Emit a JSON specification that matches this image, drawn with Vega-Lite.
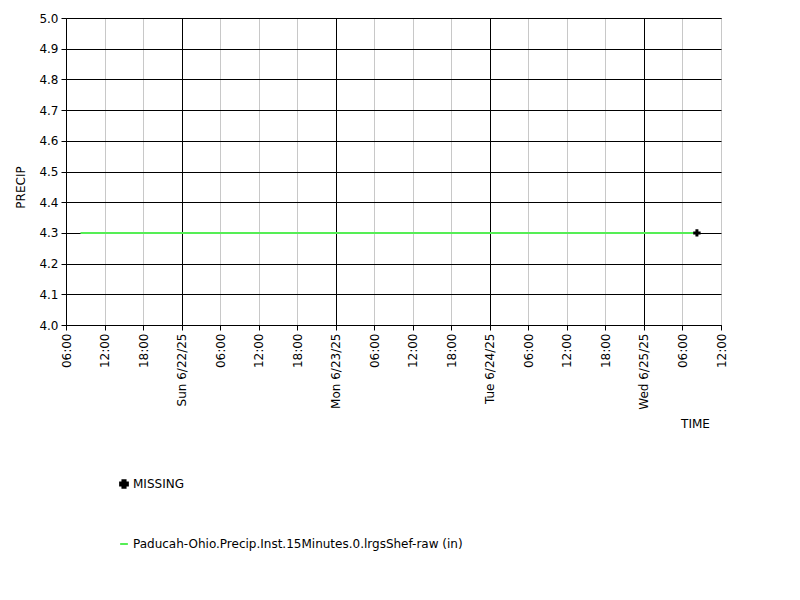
{
  "$schema": "https://vega.github.io/schema/vega-lite/v6.json",
  "width": 655,
  "height": 307,
  "autosize": {"type": "none"},
  "padding": {"left": 66, "top": 18, "right": 79, "bottom": 275},
  "background": "white",
  "config": {
    "font": "DejaVu Sans",
    "view": {"stroke": "black", "strokeWidth": 1},
    "axis": {
      "labelFont": "DejaVu Sans",
      "labelFontSize": 12,
      "labelColor": "black",
      "titleFont": "DejaVu Sans",
      "titleFontSize": 12,
      "titleFontWeight": "normal",
      "titleColor": "black",
      "domainColor": "black",
      "tickColor": "black",
      "tickSize": 5,
      "gridOpacity": 1
    },
    "legend": {"labelFont": "DejaVu Sans", "labelFontSize": 12, "labelColor": "black"}
  },
  "data": {
    "values": [
      {"time": "2025-06-21T08:15:00Z", "value": 4.3, "series": "Paducah-Ohio.Precip.Inst.15Minutes.0.lrgsShef-raw (in)"},
      {"time": "2025-06-22T08:15:00Z", "value": 4.3, "series": "Paducah-Ohio.Precip.Inst.15Minutes.0.lrgsShef-raw (in)"},
      {"time": "2025-06-23T08:15:00Z", "value": 4.3, "series": "Paducah-Ohio.Precip.Inst.15Minutes.0.lrgsShef-raw (in)"},
      {"time": "2025-06-24T08:15:00Z", "value": 4.3, "series": "Paducah-Ohio.Precip.Inst.15Minutes.0.lrgsShef-raw (in)"},
      {"time": "2025-06-25T08:15:00Z", "value": 4.3, "series": "Paducah-Ohio.Precip.Inst.15Minutes.0.lrgsShef-raw (in)"},
      {"time": "2025-06-25T08:15:00Z", "value": 4.3, "series": "MISSING"}
    ]
  },
  "encoding": {
    "x": {
      "field": "time",
      "type": "temporal",
      "scale": {
        "type": "utc",
        "domain": [1750485600000, 1750852800000],
        "nice": false
      },
      "axis": {
        "title": "TIME",
        "values": [1750485600000, 1750507200000, 1750528800000, 1750550400000, 1750572000000, 1750593600000, 1750615200000, 1750636800000, 1750658400000, 1750680000000, 1750701600000, 1750723200000, 1750744800000, 1750766400000, 1750788000000, 1750809600000, 1750831200000, 1750852800000],
        "labelAngle": 270,
        "labelExpr": "utchours(datum.value) === 0 ? utcFormat(datum.value, '%a %-m/%-d/%y') : utcFormat(datum.value, '%H:%M')",
        "labelPadding": 3,
        "labelOverlap": false,
        "labelBound": false,
        "labelFlush": false,
        "grid": true,
        "gridColor": {"condition": {"test": "utchours(datum.value) === 0", "value": "black"}, "value": "#c8c8c8"},
        "titleAnchor": null,
        "titleAlign": "center",
        "titleBaseline": "middle",
        "titleX": 629,
        "titleY": 98
      }
    },
    "y": {
      "field": "value",
      "type": "quantitative",
      "scale": {"domain": [4, 5], "nice": false, "zero": false},
      "axis": {
        "title": "PRECIP",
        "values": [4.0, 4.1, 4.2, 4.3, 4.4, 4.5, 4.6, 4.7, 4.8, 4.9, 5.0],
        "format": ".1f",
        "grid": true,
        "gridColor": "black",
        "labelPadding": 3,
        "titleAnchor": null,
        "titleAngle": 270,
        "titleAlign": "center",
        "titleBaseline": "middle",
        "titleX": -46,
        "titleY": 169
      }
    },
    "color": {
      "field": "series",
      "type": "nominal",
      "scale": {
        "domain": ["MISSING", "Paducah-Ohio.Precip.Inst.15Minutes.0.lrgsShef-raw (in)"],
        "range": ["black", "#55ee55"]
      },
      "legend": {
        "title": null,
        "orient": "none",
        "legendX": 52,
        "legendY": 460,
        "direction": "vertical",
        "rowPadding": 46,
        "symbolSize": 60,
        "labelOffset": 3,
        "labelLimit": 0,
        "encode": {
          "symbols": {
            "update": {
              "shape": {"signal": "datum.value === 'MISSING' ? 'cross' : 'stroke'"},
              "fill": {"signal": "datum.value === 'MISSING' ? 'black' : 'transparent'"},
              "stroke": {"signal": "datum.value === 'MISSING' ? 'transparent' : '#55ee55'"},
              "strokeWidth": {"value": 2},
              "opacity": {"value": 1}
            }
          }
        }
      }
    }
  },
  "layer": [
    {
      "transform": [{"filter": "datum.series !== 'MISSING'"}],
      "mark": {"type": "line", "strokeWidth": 2}
    },
    {
      "transform": [{"filter": "datum.series === 'MISSING'"}],
      "mark": {"type": "point", "shape": "cross", "filled": true, "size": 55, "opacity": 1}
    }
  ]
}
